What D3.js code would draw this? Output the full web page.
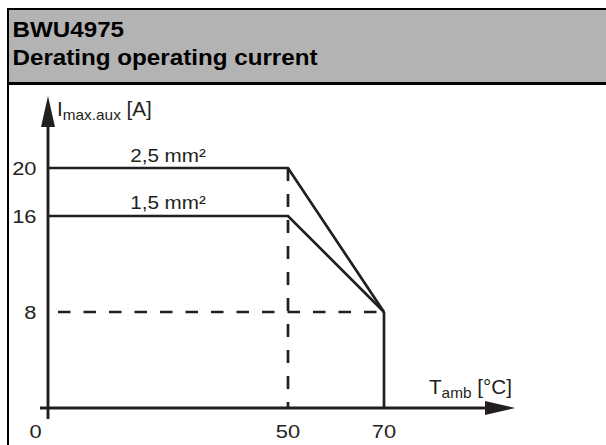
<!DOCTYPE html>
<html>
<head>
<meta charset="utf-8">
<script src="https://cdn.jsdelivr.net/npm/d3@7/dist/d3.min.js"></script>
<style>
  html, body { margin: 0; padding: 0; background: #fff; }
  svg { display: block; }
  text { font-family: "Liberation Sans", Arial, sans-serif; fill: #231f20; }
</style>
</head>
<body>
<svg id="chart" width="606" height="445"></svg>
<script>
// ---- data ----
const titleLines = ["BWU4975", "Derating operating current"];
const xTicks = [0, 50, 70];
const yTicks = [8, 16, 20];
const tempPoints = [0, 50, 70];
const current25 = [20, 20, 8];
const current15 = [16, 16, 8];
const seriesLabels = ["2,5 mm²", "1,5 mm²"];
const cutoffTemp = 70;
const cutoffCurrent = 8;
const kneeTemp = 50;
const yLabelMain = "I", yLabelSub = "max.aux", yLabelUnit = " [A]";
const xLabelMain = "T", xLabelSub = "amb", xLabelUnit = " [°C]";

const ink = "#231f20";
const svg = d3.select("#chart");

// frame + header
svg.append("rect").attr("x", 9).attr("y", 10).attr("width", 606).attr("height", 72).attr("fill", "#b3b3b3");
svg.append("line").attr("x1", 8).attr("x2", 606).attr("y1", 9).attr("y2", 9).attr("stroke", "#000").attr("stroke-width", 2);
svg.append("line").attr("x1", 8).attr("x2", 8).attr("y1", 8).attr("y2", 445).attr("stroke", "#000").attr("stroke-width", 2);
svg.append("line").attr("x1", 8).attr("x2", 606).attr("y1", 83.5).attr("y2", 83.5).attr("stroke", "#000").attr("stroke-width", 3);

function stretchText(g, x, y, str, size, anchor, sx, weight) {
  return g.append("text")
    .attr("transform", `translate(${x},${y}) scale(${sx},1)`)
    .attr("text-anchor", anchor || "start")
    .attr("font-size", size)
    .attr("font-weight", weight || "normal")
    .text(str);
}

titleLines.forEach((t, i) => {
  stretchText(svg, 12.5, 37 + i * 28, t, 22, "start", 1.1, "bold").style("fill", "#000");
});

// scales
const x = d3.scaleLinear().domain([0, 70]).range([48, 384]);
const y = d3.scaleLinear().domain([0, 20]).range([408, 168]);

const plot = svg.append("g");
const line = d3.line().x(d => x(d[0])).y(d => y(d[1]));

// dashed reference lines
plot.append("path")
  .attr("d", line([[kneeTemp, 0], [kneeTemp, d3.max(current25)]]))
  .attr("fill", "none").attr("stroke", ink).attr("stroke-width", 2.7)
  .attr("stroke-dasharray", "13,13").attr("stroke-dashoffset", 7);
plot.append("path")
  .attr("d", line([[0, cutoffCurrent], [cutoffTemp, cutoffCurrent]]))
  .attr("fill", "none").attr("stroke", ink).attr("stroke-width", 2.7)
  .attr("stroke-dasharray", "12.5,13").attr("stroke-dashoffset", -10);

// series lines
[current25, current15].forEach(vals => {
  plot.append("path")
    .attr("d", line(tempPoints.map((t, i) => [t, vals[i]])))
    .attr("fill", "none").attr("stroke", ink).attr("stroke-width", 2.7)
    .attr("stroke-linejoin", "miter");
});
// cut-off
plot.append("path")
  .attr("d", line([[cutoffTemp, cutoffCurrent], [cutoffTemp, 0]]))
  .attr("fill", "none").attr("stroke", ink).attr("stroke-width", 2.7);

// axes
plot.append("line").attr("x1", x(0)).attr("x2", x(0)).attr("y1", y(0) + 11).attr("y2", 125)
  .attr("stroke", ink).attr("stroke-width", 2.9);
plot.append("path").attr("d", `M${x(0)},96 L${x(0) - 7},127 L${x(0) + 7},127 Z`).attr("fill", ink);
plot.append("line").attr("x1", x(0) - 8).attr("x2", 487).attr("y1", y(0)).attr("y2", y(0))
  .attr("stroke", ink).attr("stroke-width", 2.9);
plot.append("path").attr("d", `M515,${y(0)} L485,${y(0) - 7} L485,${y(0) + 7} Z`).attr("fill", ink);

// tick labels
yTicks.forEach(v => stretchText(plot, 36.5, y(v) + 7, String(v), 19, "end", 1.15));
xTicks.forEach(v => stretchText(plot, x(v) + (v === 0 ? -12.5 : 0), 438, String(v), 19, "middle", 1.15));

// series labels
stretchText(plot, x(25), y(current25[0]) - 6.5, seriesLabels[0], 17.5, "middle", 1.18);
stretchText(plot, x(25), y(current15[0]) - 7, seriesLabels[1], 17.5, "middle", 1.18);

// axis titles
function subLabel(g, x0, y0, main, sub, unit) {
  const t = g.append("text").attr("transform", `translate(${x0},${y0}) scale(1.06,1)`).attr("font-size", 19.5);
  t.append("tspan").text(main);
  t.append("tspan").attr("font-size", 14.5).attr("dy", 4).text(sub);
  t.append("tspan").attr("dy", -4).text(unit);
  return t;
}
subLabel(plot, 57, 116, yLabelMain, yLabelSub, yLabelUnit);
subLabel(plot, 429, 394, xLabelMain, xLabelSub, xLabelUnit);
</script>
</body>
</html>
